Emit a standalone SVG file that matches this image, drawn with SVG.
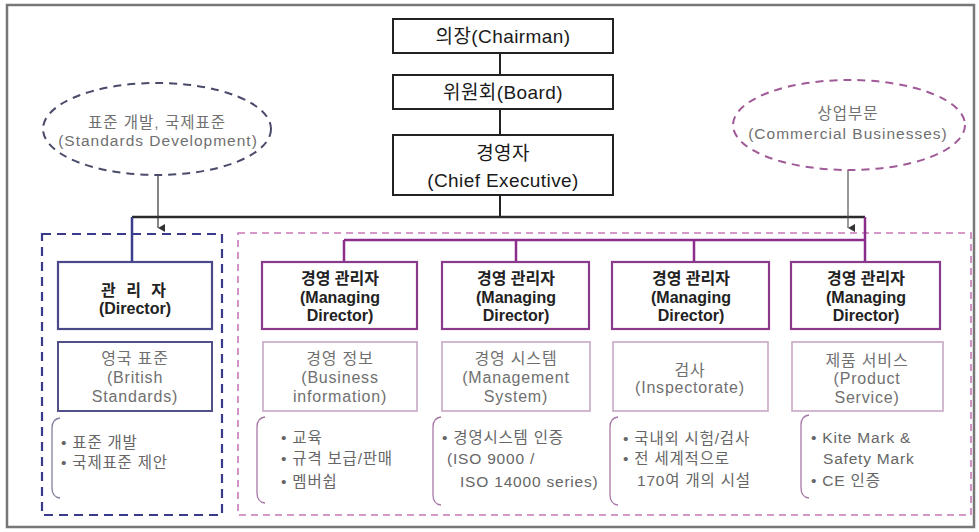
<svg xmlns="http://www.w3.org/2000/svg" width="979" height="532" viewBox="0 0 979 532">
<defs>
<marker id="arr" markerWidth="8" markerHeight="8" refX="4" refY="7" orient="auto" markerUnits="userSpaceOnUse" viewBox="0 0 8 8">
<path d="M0,0 L8,0 L4,7 Z" fill="#333"/>
</marker>
<style>
text{font-family:"Liberation Sans","Noto Sans CJK KR",sans-serif;text-anchor:middle}
.top rect{fill:#fff;stroke:#222;stroke-width:2}
.top text{font-size:19px;fill:#1a1a1a;letter-spacing:0.4px}
.md rect{fill:#fff;stroke:#8a3a8a;stroke-width:2.2}
.md text{font-size:16px;font-weight:bold;fill:#222}
.dr rect{fill:#fff;stroke:#4a4a8a;stroke-width:2.2}
.dr text{font-size:16px;font-weight:bold;fill:#222}
.sub rect{fill:#fff;stroke:#c8a8c4;stroke-width:1.6}
.subd rect{fill:#fff;stroke:#50508a;stroke-width:2}
.sub text,.subd text{font-size:16px;fill:#707070;letter-spacing:0.8px}
.lst text{font-size:15.5px;fill:#666;text-anchor:start;letter-spacing:0.8px}
.lst path{fill:none;stroke:#a878a8;stroke-width:1.3}
.lstd path{fill:none;stroke:#8080a0;stroke-width:1.3}
.ell text{font-size:15.5px;fill:#707070;letter-spacing:1px}
</style>
</defs>
<rect x="7" y="5" width="967" height="522" fill="#fff" stroke="#777" stroke-width="2.5"/>
<!-- dashed frames -->
<rect id="frame-standards" x="42" y="234" width="180" height="281" fill="none" stroke="#3a3a8a" stroke-width="2.2" stroke-dasharray="9,6"/>
<rect id="frame-commercial" x="238" y="233" width="733" height="282" fill="none" stroke="#c878b8" stroke-width="1.6" stroke-dasharray="7,5"/>
<g id="connectors" fill="none">
<path d="M500,53 V75 M500,109 V135 M500,195 V217" stroke="#222" stroke-width="2"/>
<path d="M132,217 H865" stroke="#2a2a2a" stroke-width="2.5"/>
<path d="M132,217 V262" stroke="#3c3c8c" stroke-width="2.5"/>
<path d="M865,217 V262 M344,240 H865 M344,240 V262 M516,240 V262 M694,240 V262" stroke="#8b2d8b" stroke-width="2.5"/>
<path d="M158,175 V228" stroke="#333" stroke-width="1.2" marker-end="url(#arr)"/>
<path d="M848,170 V228" stroke="#555" stroke-width="1.2" marker-end="url(#arr)"/>
</g>
<g id="ellipse-standards" class="ell">
<ellipse cx="157" cy="129" rx="114" ry="46" fill="none" stroke="#4a4a6a" stroke-width="2" stroke-dasharray="8,6"/>
<text x="157" y="128">표준 개발, 국제표준</text>
<text x="158" y="146">(Standards Development)</text>
</g>
<g id="ellipse-commercial" class="ell">
<ellipse cx="849" cy="125" rx="116" ry="45" fill="none" stroke="#a05a98" stroke-width="2" stroke-dasharray="8,6"/>
<text x="848" y="119">상업부문</text>
<text x="848" y="139">(Commercial Businesses)</text>
</g>
<g id="chairman" class="top">
<rect x="393" y="19" width="220" height="34"/>
<text x="503" y="43">의장(Chairman)</text>
</g>
<g id="board" class="top">
<rect x="393" y="75" width="220" height="34"/>
<text x="503" y="99">위원회(Board)</text>
</g>
<g id="chief" class="top">
<rect x="393" y="135" width="220" height="60"/>
<text x="503" y="160">경영자</text>
<text x="503" y="187">(Chief Executive)</text>
</g>
<g id="director" class="dr">
<rect x="58" y="262" width="154" height="67"/>
<text x="135" y="296" style="letter-spacing:3px">관 리 자</text>
<text x="135" y="314">(Director)</text>
</g>
<g id="md1" class="md">
<rect x="262" y="262" width="155" height="67"/>
<text x="340" y="284">경영 관리자</text>
<text x="340" y="303">(Managing</text>
<text x="340" y="321">Director)</text>
</g>
<g id="md2" class="md">
<rect x="442" y="262" width="147" height="67"/>
<text x="516" y="284">경영 관리자</text>
<text x="516" y="303">(Managing</text>
<text x="516" y="321">Director)</text>
</g>
<g id="md3" class="md">
<rect x="612" y="262" width="157" height="67"/>
<text x="691" y="284">경영 관리자</text>
<text x="691" y="303">(Managing</text>
<text x="691" y="321">Director)</text>
</g>
<g id="md4" class="md">
<rect x="791" y="262" width="149" height="67"/>
<text x="866" y="284">경영 관리자</text>
<text x="866" y="303">(Managing</text>
<text x="866" y="321">Director)</text>
</g>
<g id="british" class="subd">
<rect x="58" y="342" width="154" height="69"/>
<text x="135" y="364">영국 표준</text>
<text x="135" y="383">(British</text>
<text x="135" y="402">Standards)</text>
</g>
<g id="business" class="sub">
<rect x="263" y="342" width="154" height="69"/>
<text x="340" y="364">경영 정보</text>
<text x="340" y="383">(Business</text>
<text x="340" y="402">information)</text>
</g>
<g id="management" class="sub">
<rect x="442" y="342" width="148" height="69"/>
<text x="516" y="364">경영 시스템</text>
<text x="516" y="383">(Management</text>
<text x="516" y="402">System)</text>
</g>
<g id="inspect" class="sub">
<rect x="613" y="342" width="155" height="69"/>
<text x="690" y="376">검사</text>
<text x="690" y="393">(Inspectorate)</text>
</g>
<g id="product" class="sub">
<rect x="792" y="342" width="151" height="69"/>
<text x="867" y="366">제품 서비스</text>
<text x="867" y="384">(Product</text>
<text x="867" y="403">Service)</text>
</g>
<g id="list-standards" class="lst lstd">
<path d="M60,418 Q52,419 52,428 V488 Q52,497 60,498"/>
<text x="61" y="448">• 표준 개발</text>
<text x="61" y="468">• 국제표준 제안</text>
</g>
<g id="list-business" class="lst">
<path d="M265,417 Q257,418 257,427 V493 Q257,502 265,503"/>
<text x="281" y="443">• 교육</text>
<text x="281" y="464">• 규격 보급/판매</text>
<text x="281" y="487">• 멤버쉽</text>
</g>
<g id="list-management" class="lst">
<path d="M441,417 Q433,418 433,427 V495 Q433,504 441,505"/>
<text x="442" y="443">• 경영시스템 인증</text>
<text x="447" y="464">(ISO 9000 /</text>
<text x="460" y="487">ISO 14000 series)</text>
</g>
<g id="list-inspect" class="lst">
<path d="M618,417 Q610,418 610,427 V495 Q610,504 618,505"/>
<text x="623" y="444">• 국내외 시험/검사</text>
<text x="623" y="464">• 전 세계적으로</text>
<text x="637" y="486">170여 개의 시설</text>
</g>
<g id="list-product" class="lst">
<path d="M809,415 Q801,416 801,425 V488 Q801,497 809,498"/>
<text x="811" y="443">• Kite Mark &amp;</text>
<text x="823" y="464">Safety Mark</text>
<text x="811" y="486">• CE 인증</text>
</g>
</svg>
